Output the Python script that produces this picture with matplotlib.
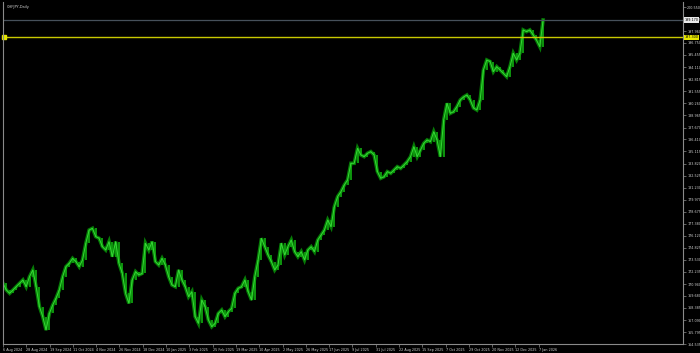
import numpy as np
import matplotlib
matplotlib.use("Agg")
import matplotlib.pyplot as plt
import matplotlib.transforms as mtransforms

# chart title and levels
symbol = "CHFJPY,Daily"
level_line = 197.30  # yellow horizontal line

# closing prices (roughly one value every 2-3 daily bars)
closes = [
    171.02, 170.31, 169.95, 170.31, 170.66, 171.02, 171.38, 170.66, 171.73, 172.45,
    170.66, 168.53, 167.46, 166.03, 167.81, 168.70, 169.42, 170.31, 171.73, 172.80,
    173.16, 173.69, 173.34, 172.80, 173.52, 175.30, 176.72, 176.90, 176.01, 175.83,
    174.94, 174.58, 175.48, 173.87, 175.48, 173.16, 172.09, 169.95, 168.88, 171.38,
    172.27, 171.91, 172.09, 175.30, 174.58, 175.48, 173.34, 172.98, 173.69, 172.98,
    171.73, 170.84, 170.66, 172.45, 171.38, 170.66, 169.60, 170.13, 167.46, 166.74,
    169.24, 168.53, 167.10, 166.39, 166.74, 167.81, 168.17, 167.46, 167.99, 168.35,
    169.95, 170.49, 170.66, 171.38, 170.13, 169.24, 171.73, 173.52, 175.83, 174.94,
    174.05, 173.34, 172.45, 172.98, 175.30, 174.05, 174.94, 175.65, 174.41, 173.87,
    174.41, 173.52, 174.58, 174.94, 174.41, 175.65, 176.19, 176.72, 177.79, 177.08,
    179.22, 180.29, 180.82,
    181.53, 182.07, 183.85, 183.85, 185.45, 184.74, 184.56, 184.92, 185.10, 184.74,
    182.96, 182.25, 182.42, 182.96, 182.78, 183.14, 183.49, 183.31, 183.67, 184.03,
    184.56, 185.63, 184.56, 185.27, 185.99, 186.34, 186.16, 187.23, 186.34, 184.56,
    188.48, 190.26, 189.19, 189.37, 189.91, 190.62, 190.94, 191.15, 190.62, 189.76,
    189.55, 190.62,
    193.83, 194.89, 194.72, 193.65, 194.18, 193.83, 193.47, 193.11, 194.18, 195.61,
    194.89, 195.61, 198.10, 197.92, 198.10, 197.57, 197.03, 196.32, 199.17,
]
last_bar = 371  # bar index of the last close (daily bars since 6 Aug 2024)

date_labels = [
    "6 Aug 2024", "28 Aug 2024", "19 Sep 2024", "11 Oct 2024", "4 Nov 2024",
    "26 Nov 2024", "18 Dec 2024", "10 Jan 2025", "3 Feb 2025", "25 Feb 2025",
    "19 Mar 2025", "10 Apr 2025", "2 May 2025", "26 May 2025", "17 Jun 2025",
    "9 Jul 2025", "31 Jul 2025", "22 Aug 2025", "15 Sep 2025", "7 Oct 2025",
    "29 Oct 2025", "20 Nov 2025", "12 Dec 2025", "7 Jan 2026",
]
bars_per_label = 16

price_ticks = [
    200.550, 199.255, 197.960, 196.750, 195.455, 194.110, 192.815, 191.555,
    190.260, 188.965, 187.670, 186.410, 185.115, 183.820, 182.525, 181.230,
    179.970, 178.675, 177.380, 176.120, 174.825, 173.530, 172.235, 170.940,
    169.680, 168.385, 167.090, 165.795, 164.535,
]

fig = plt.figure(figsize=(7.0, 3.53), dpi=100, facecolor="black")
ax = fig.add_axes([3 / 700, 9 / 353, 680 / 700, 342 / 353], facecolor="black")

closes = np.array(closes)
pos = np.linspace(0, last_bar, len(closes))

# two-tone green price line (dark body, bright core) like the candles
ax.plot(pos, closes, color="#067a06", linewidth=2.6, solid_joinstyle="miter")
prev = closes[:-1]
cur = closes[1:]
ax.vlines(pos[1:], np.minimum(prev, cur), np.maximum(prev, cur),
          colors="#0fa00f", linewidth=1.3)
ax.plot(pos, closes, color="#36d836", linewidth=0.7)

ax.set_xlim(0.7, 467.1)
ax.set_ylim(164.535, 201.09)

# horizontal lines
last = closes[-1]
ax.axhline(last, color="#46505a", linewidth=0.9)
ax.axhline(level_line, color="#c8c800", linewidth=1.0)
ax.plot([1.0], [level_line], marker="s", markersize=2.2, color="#e6e600",
        clip_on=False)

# axes styling, MT4 look
for side in ["left", "right", "bottom"]:
    ax.spines[side].set_color("#8a8a8a")
    ax.spines[side].set_linewidth(0.8)
ax.spines["top"].set_visible(False)

ax.yaxis.tick_right()
ax.set_yticks(price_ticks)
ax.set_yticklabels([f"{v:.3f}" for v in price_ticks])
ax.set_xticks([i * bars_per_label for i in range(len(date_labels))])
ax.set_xticklabels(date_labels, ha="left")
ax.tick_params(axis="both", colors="#8a8a8a", labelcolor="#d0d0d0",
               labelsize=2.4, length=2, width=0.5, pad=1)

# price labels on the scale
trans = mtransforms.blended_transform_factory(ax.transAxes, ax.transData)
ax.text(1.002, last, f"{last:.3f}", transform=trans, ha="left", va="center",
        fontsize=2.4, color="black", clip_on=False,
        bbox=dict(boxstyle="square,pad=0.25", fc="#e8e8e8", ec="none"))
ax.text(1.002, level_line, f"{level_line:.3f}", transform=trans, ha="left",
        va="center", fontsize=2.4, color="black", clip_on=False,
        bbox=dict(boxstyle="square,pad=0.25", fc="#e6e600", ec="none"))

ax.text(0.006, 0.992, symbol, transform=ax.transAxes, ha="left", va="top",
        fontsize=2.6, color="#d0d0d0")

fig.savefig("out.png", dpi=100, facecolor="black")
